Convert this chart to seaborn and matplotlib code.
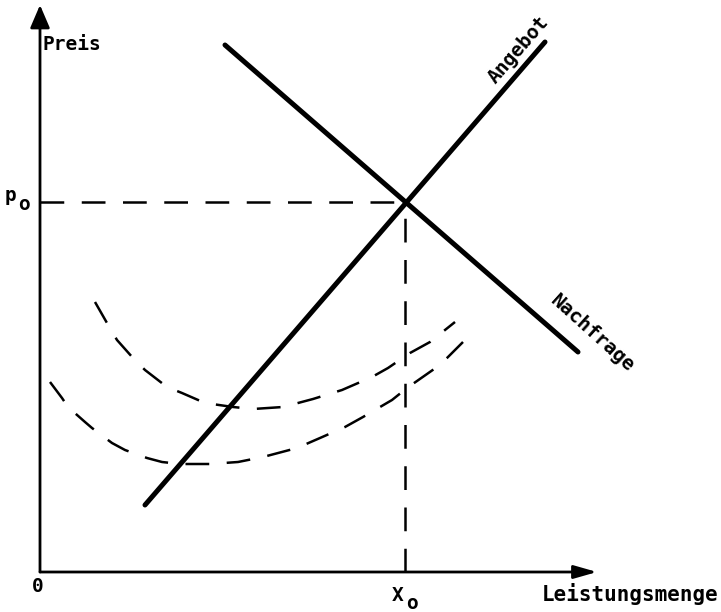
#!/usr/bin/env python3
#
# Angebot / Nachfrage with two dashed cost curves
#
import numpy as np
import matplotlib
matplotlib.use('Agg')
import matplotlib.pyplot as plt
import seaborn as sns

sns.set_theme(style='white')
plt.rcParams['font.family'] = ['DejaVu Sans Mono', 'DejaVu Sans']

# Supply and demand lines (end points, chart units)
supply_x = [105, 505]
supply_y = [67, 530]
demand_x = [185, 538]
demand_y = [527, 220]

# Equilibrium
x0 = 365
p0 = 370

# Upper dashed cost curve
cost1_x = [55, 67, 77, 93, 105, 127, 142, 165, 193, 213, 243, 273, 302, 332,
           348, 370, 390, 415]
cost1_y = [270, 249, 232, 214, 202, 185, 179, 169, 165, 163, 165, 173, 182,
           195, 204, 219, 230, 250]

# Lower dashed cost curve
cost2_x = [10, 22, 28, 45, 52, 72, 85, 107, 122, 140, 170, 198, 223, 257, 280,
           305, 323, 352, 367, 397, 407, 423]
cost2_y = [190, 174, 165, 150, 144, 129, 122, 114, 110, 108, 108, 110, 115,
           124, 134, 145, 155, 172, 184, 205, 214, 230]

# Axis extent
x_end = 557
y_end = 567

fs = 14
fw = 'semibold'
dash = (0, (9.5, 7))
black = 'black'

fig = plt.figure(figsize=(7.21, 6.12), dpi=100)
ax = fig.add_axes([0, 0, 1, 1])
ax.set_xlim(-40, 681)
ax.set_ylim(-40, 572)
ax.axis('off')

# Axes with arrow heads
ax.annotate('', xy=(0, y_end), xytext=(0, 0),
            arrowprops=dict(arrowstyle='-|>,head_length=0.7,head_width=0.3',
                            mutation_scale=20, lw=2, color=black,
                            shrinkA=0, shrinkB=0))
ax.annotate('', xy=(x_end, 0), xytext=(0, 0),
            arrowprops=dict(arrowstyle='-|>,head_length=0.7,head_width=0.2',
                            mutation_scale=20, lw=2, color=black,
                            shrinkA=0, shrinkB=0))

# Guide lines to the equilibrium
ax.plot([0, x0], [p0, p0], color=black, lw=1.8, linestyle=dash)
ax.plot([x0, x0], [0, p0], color=black, lw=1.8, linestyle=dash)

# Cost curves
sns.lineplot(x=cost1_x, y=cost1_y, ax=ax, color=black, lw=1.8,
             linestyle=dash, legend=False)
sns.lineplot(x=cost2_x, y=cost2_y, ax=ax, color=black, lw=1.8,
             linestyle=dash, legend=False)

# Supply and demand
sns.lineplot(x=supply_x, y=supply_y, ax=ax, color=black, lw=3.6,
             solid_capstyle='round', legend=False)
sns.lineplot(x=demand_x, y=demand_y, ax=ax, color=black, lw=3.6,
             solid_capstyle='round', legend=False)

# Labels
txt = dict(fontsize=fs, fontweight=fw, color=black)
ax.text(3, 522, 'Preis', ha='left', va='baseline', **txt)
ax.text(-35, 371, 'p', ha='left', va='baseline', **txt)
ax.text(-22, 362, 'o', ha='left', va='baseline', **txt)
ax.text(-2.5, -20, '0', ha='center', va='baseline', **txt)
ax.text(352, -29, 'X', ha='left', va='baseline', **txt)
ax.text(366, -37, 'o', ha='left', va='baseline', **txt)
ax.text(502, -29, 'Leistungsmenge', ha='left', va='baseline',
        fontsize=15, fontweight=fw, color=black)
ax.text(478, 522, 'Angebot', ha='center', va='center',
        rotation=49, rotation_mode='anchor', **txt)
ax.text(553, 239, 'Nachfrage', ha='center', va='center',
        rotation=-42, rotation_mode='anchor', **txt)

fig.savefig('out.png', dpi=100)
plt.close(fig)
